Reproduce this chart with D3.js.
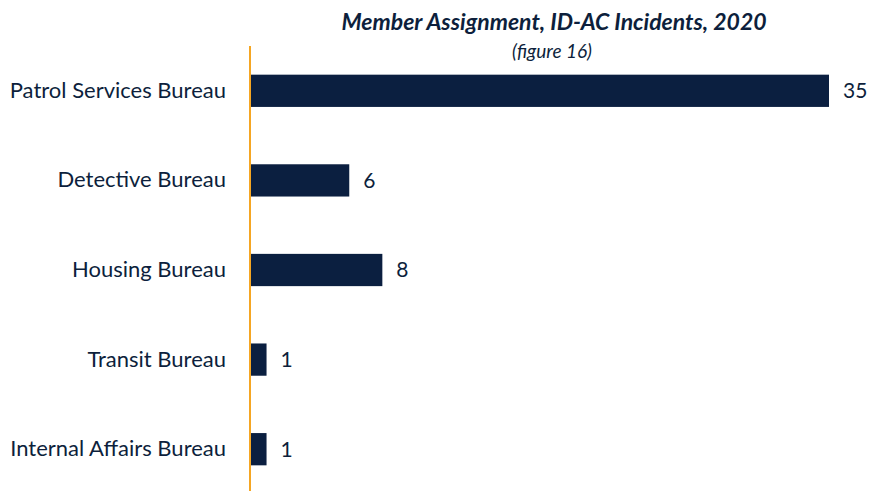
<!DOCTYPE html>
<html>
<head>
<meta charset="utf-8">
<script src="https://cdn.jsdelivr.net/npm/d3@7"></script>
<style>
  body { margin: 0; background: #fff; }
  text { font-family: Lato, "Open Sans", sans-serif; fill: #0d1f3c; }
</style>
</head>
<body>
<div id="container"></div>
<script>
const WIDTH = 869;
const HEIGHT = 491;
const AXIS_X = 250;
const BAR_COLOR = "#0b1f40";
const AXIS_COLOR = "#f5a623";

var BUREAUS = ["Patrol Services Bureau", "Detective Bureau", "Housing Bureau", "Transit Bureau", "Internal Affairs Bureau"];
var COUNTS = [35, 6, 8, 1, 1];

var TITLE = "Member Assignment, ID-AC Incidents, 2020";
var SUBTITLE = "(figure 16)";

var xScale = d3.scaleLinear().domain([0, 35]).range([AXIS_X, 829]);
var yScale = d3.scaleBand().domain(BUREAUS).range([46, 494]).paddingInner(0.64).paddingOuter(0.32);

var svg = d3.select("#container").append("svg")
    .attr("width", WIDTH)
    .attr("height", HEIGHT);

svg.append("text")
    .attr("x", 554).attr("y", 30)
    .attr("text-anchor", "middle")
    .attr("font-size", 23)
    .attr("font-weight", "bold")
    .attr("font-style", "italic")
    .text(TITLE);

svg.append("text")
    .attr("x", 552).attr("y", 58)
    .attr("text-anchor", "middle")
    .attr("font-size", 19)
    .attr("font-style", "italic")
    .text(SUBTITLE);

var rows = BUREAUS.map(function (name, i) { return {name: name, value: COUNTS[i]}; });

svg.selectAll(".bar").data(rows).enter().append("rect")
    .attr("class", "bar")
    .attr("x", xScale(0))
    .attr("y", function (d) { return yScale(d.name); })
    .attr("width", function (d) { return xScale(d.value) - xScale(0); })
    .attr("height", yScale.bandwidth())
    .attr("fill", BAR_COLOR);

svg.selectAll(".value").data(rows).enter().append("text")
    .attr("class", "value")
    .attr("x", function (d) { return xScale(d.value) + 14; })
    .attr("y", function (d) { return yScale(d.name) + yScale.bandwidth() / 2; })
    .attr("dy", "0.35em")
    .attr("font-size", 21)
    .text(function (d) { return d.value; });

// category axis, labels only, orange baseline
var yAxis = d3.axisLeft(yScale).tickSize(0).tickPadding(24);
var axisG = svg.append("g")
    .attr("transform", "translate(" + AXIS_X + ",0)")
    .call(yAxis);
axisG.select(".domain").remove();
axisG.attr("font-size", null).attr("font-family", null);
axisG.selectAll("text")
    .attr("font-size", 22)
    .attr("fill", "#0d1f3c");

svg.append("line")
    .attr("x1", AXIS_X).attr("x2", AXIS_X)
    .attr("y1", 46).attr("y2", HEIGHT)
    .attr("stroke", AXIS_COLOR)
    .attr("stroke-width", 2);
</script>
</body>
</html>
